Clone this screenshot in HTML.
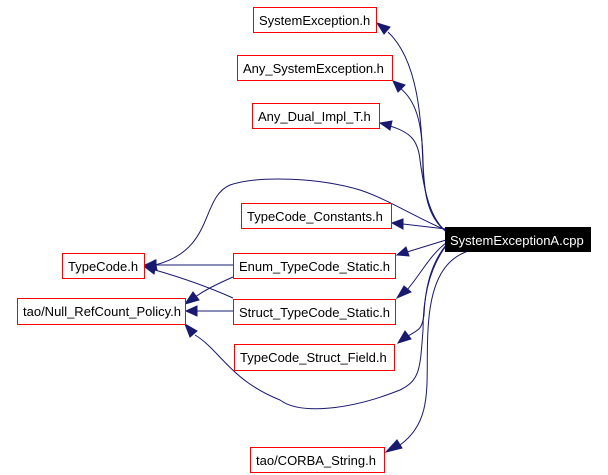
<!DOCTYPE html>
<html><head><style>
body{margin:0;background:#fff;}
svg{display:block}
text{font-family:"Liberation Sans",sans-serif;font-size:13px;fill:#000}
.b{fill:#fff;stroke:#f00;stroke-width:1}
.e{fill:none;stroke:#191970;stroke-width:1}
.a{fill:#191970;stroke:#191970}
</style></head><body>
<svg width="608" height="475" viewBox="0 0 608 475">
<!-- edges -->
<path class="e" d="M448,233 C430,220 425,200 423,170 C422,120 418,60 388,32"/>
<polygon class="a" points="377,23 390,27 384,34"/>
<path class="e" d="M448,233 C430,220 424,200 423,160 C422,120 415,100 400,88"/>
<polygon class="a" points="393,81 405,85 398,92"/>
<path class="e" d="M448,233 C430,220 424,190 420,160 C418,140 410,132 390,126"/>
<polygon class="a" points="380,123 392,121 390,130"/>
<path class="e" d="M446,230 C420,220 390,200 360,190 C320,178 260,175 230,185 C200,198 215,250 155,265"/>
<polygon class="a" points="145,266 155,260 157,270"/>
<path class="e" d="M446,229 L403,224"/>
<polygon class="a" points="392,223 403,219 403,229"/>
<path class="e" d="M446,240 L407,252"/>
<polygon class="a" points="397,255 406,247 409,256"/>
<path class="e" d="M446,243 C430,255 420,275 407,290"/>
<polygon class="a" points="397,298 404,286 411,292"/>
<path class="e" d="M446,245 C430,265 425,290 424,315 C422,330 418,330 408,336"/>
<polygon class="a" points="398,343 405,331 411,339"/>
<path class="e" d="M446,246 C428,270 423,300 423,330 C420,370 420,380 400,390 C350,410 300,415 280,400 C230,380 220,350 195,335"/>
<polygon class="a" points="185,324 197,331 190,337"/>
<path class="e" d="M472,250 C440,258 430,290 428,330 C425,380 435,420 400,445"/>
<polygon class="a" points="386,452 397,440 402,448"/>
<path class="e" d="M233,265 L155,265"/>
<polygon class="a" points="145,265 156,260 156,270"/>
<path class="e" d="M233,277 C215,285 205,290 195,297"/>
<polygon class="a" points="185,304 193,292 199,300"/>
<path class="e" d="M233,298 C215,290 190,280 155,270"/>
<polygon class="a" points="145,267 156,265 154,274"/>
<path class="e" d="M233,311 L196,311"/>
<polygon class="a" points="186,311 197,306 197,316"/>
<!-- nodes -->
<rect class="b" x="253.5" y="7.5" width="123" height="25"/><text x="259" y="25">SystemException.h</text>
<rect class="b" x="237.5" y="55.5" width="155" height="25"/><text x="243" y="73">Any_SystemException.h</text>
<rect class="b" x="252.5" y="103.5" width="127" height="25"/><text x="258" y="121">Any_Dual_Impl_T.h</text>
<rect class="b" x="241.5" y="203.5" width="150" height="25"/><text x="247" y="221">TypeCode_Constants.h</text>
<rect class="b" x="233.5" y="253.5" width="162" height="25"/><text x="239" y="271">Enum_TypeCode_Static.h</text>
<rect class="b" x="233.5" y="299.5" width="162" height="25"/><text x="239" y="317">Struct_TypeCode_Static.h</text>
<rect class="b" x="234.5" y="344.5" width="160" height="26"/><text x="240" y="362">TypeCode_Struct_Field.h</text>
<rect class="b" x="62.5" y="253.5" width="82" height="25"/><text x="68" y="271">TypeCode.h</text>
<rect class="b" x="17.5" y="298.5" width="168" height="26"/><text x="23" y="316">tao/Null_RefCount_Policy.h</text>
<rect class="b" x="250.5" y="447.5" width="134" height="25"/><text x="256" y="465">tao/CORBA_String.h</text>
<rect x="445" y="227" width="146" height="25" fill="#000"/><text x="450" y="245" style="fill:#fff">SystemExceptionA.cpp</text>
</svg>
</body></html>
